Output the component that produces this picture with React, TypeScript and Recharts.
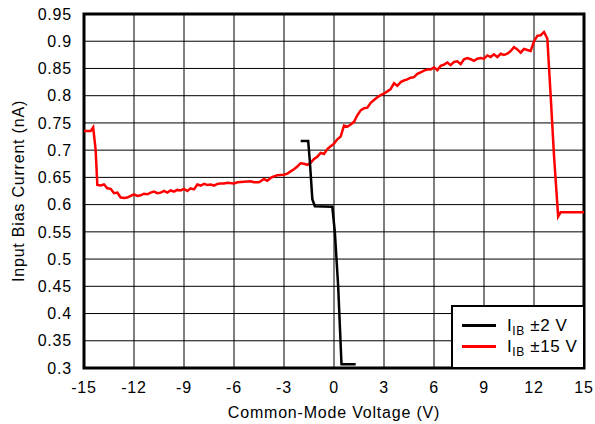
import { LineChart, Line, XAxis, YAxis, CartesianGrid, ReferenceArea } from "recharts";

const xTicks = [-15, -12, -9, -6, -3, 0, 3, 6, 9, 12, 15];
const yTicks = [0.3, 0.35, 0.4, 0.45, 0.5, 0.55, 0.6, 0.65, 0.7, 0.75, 0.8, 0.85, 0.9, 0.95];

// IIB at ±2 V supply
const vcm2 = [-2.0, -1.55, -1.45, -1.3, -1.15, -0.1, 0.05, 0.25, 0.45, 1.3];
const ib2 = [0.717, 0.717, 0.68, 0.61, 0.597, 0.596, 0.55, 0.45, 0.307, 0.307];

// IIB at ±15 V supply
const vcm15 = [
  -15, -14.6, -14.45, -14.3, -14.2, -14.0, -13.8, -13.6, -13.4, -13.2, -13.0, -12.8, -12.6, -12.4,
  -12.2, -12.0, -11.8, -11.6, -11.4, -11.2, -11.0, -10.8, -10.6, -10.4, -10.2, -10.0, -9.8, -9.6,
  -9.4, -9.2, -9.0, -8.8, -8.6, -8.4, -8.2, -8.0, -7.8, -7.6, -7.4, -7.2, -7.0, -6.8, -6.6, -6.4,
  -6.0, -5.8, -5.4, -5.0, -4.8, -4.5, -4.2, -4.0, -3.8, -3.6, -3.4, -3.0, -2.8, -2.6, -2.4, -2.2,
  -2.0, -1.8, -1.6, -1.4, -1.2, -1.0, -0.8, -0.6, -0.4, -0.2, 0.0, 0.2, 0.4, 0.6, 0.8, 1.0, 1.2,
  1.4, 1.6, 1.8, 2.0, 2.2, 2.4, 2.6, 2.8, 3.0, 3.2, 3.4, 3.6, 3.8, 4.0, 4.2, 4.4, 4.6, 4.8, 5.0,
  5.2, 5.4, 5.6, 5.8, 6.0, 6.2, 6.4, 6.6, 6.8, 7.0, 7.2, 7.4, 7.6, 7.8, 8.0, 8.2, 8.4, 8.6, 8.8,
  9.0, 9.2, 9.4, 9.6, 9.8, 10.0, 10.2, 10.4, 10.6, 10.8, 11.0, 11.2, 11.4, 11.6, 11.8, 12.0, 12.2,
  12.4, 12.6, 12.8, 13.0, 13.2, 13.45, 13.6, 14.0, 15.0,
];
const ib15 = [
  0.735, 0.735, 0.742, 0.7, 0.636, 0.635, 0.637, 0.63, 0.629, 0.621, 0.622, 0.613, 0.612, 0.613,
  0.616, 0.619, 0.616, 0.617, 0.62, 0.619, 0.622, 0.624, 0.621, 0.622, 0.625, 0.622, 0.626, 0.624,
  0.627, 0.626, 0.629, 0.625, 0.63, 0.628, 0.637, 0.635, 0.638, 0.636, 0.637, 0.635, 0.638, 0.639,
  0.639, 0.64, 0.639, 0.641, 0.642, 0.643, 0.641, 0.641, 0.647, 0.644, 0.649, 0.652, 0.654, 0.655,
  0.657, 0.661, 0.665, 0.67, 0.676, 0.675, 0.673, 0.677, 0.684, 0.688, 0.695, 0.693, 0.702, 0.707,
  0.712, 0.72, 0.725, 0.745, 0.743, 0.747, 0.752, 0.764, 0.773, 0.777, 0.778, 0.787, 0.792, 0.797,
  0.801, 0.804, 0.808, 0.812, 0.823, 0.818, 0.825, 0.828, 0.83, 0.833, 0.834, 0.84, 0.843, 0.846,
  0.848, 0.848, 0.852, 0.847, 0.855, 0.857, 0.861, 0.856, 0.862, 0.863, 0.858, 0.867, 0.869, 0.867,
  0.864, 0.868, 0.869, 0.868, 0.874, 0.871, 0.876, 0.871, 0.877, 0.875, 0.877, 0.882, 0.889, 0.885,
  0.879, 0.886, 0.884, 0.882, 0.9, 0.91, 0.911, 0.917, 0.905, 0.8, 0.69, 0.578, 0.586, 0.586, 0.586,
];

const data2 = vcm2.map((v, i) => ({ v, ib: ib2[i] }));
const data15 = vcm15.map((v, i) => ({ v, ib: ib15[i] }));

const font = "'Liberation Sans', Arial, sans-serif";
const textStyle = { fill: "#000", fontSize: 16, fontFamily: font, letterSpacing: 0.8 };

const legendRows = [
  { color: "#000", label: "±2 V" },
  { color: "#ff0000", label: "±15 V" },
];

const LegendBox = () => (
  <div
    style={{
      position: "absolute",
      left: 451,
      top: 305,
      width: 134,
      height: 64,
      border: "2.5px solid #000",
      background: "#fff",
      boxSizing: "border-box",
      fontFamily: font,
      fontSize: 17,
      letterSpacing: 0.6,
      color: "#000",
      paddingTop: 8,
    }}
  >
    {legendRows.map((row) => (
      <div key={row.label} style={{ display: "flex", alignItems: "center", height: 21 }}>
        <span style={{ display: "inline-block", width: 34, height: 3, background: row.color, marginLeft: 9, marginRight: 11 }} />
        <span style={{ lineHeight: "21px" }}>
          I<sub style={{ fontSize: 12, lineHeight: 0 }}>IB</sub> {row.label}
        </span>
      </div>
    ))}
  </div>
);

export default function App() {
  return (
    <div style={{ position: "absolute", left: 0, top: 0, width: 595, height: 424, background: "#fff" }}>
      <LineChart width={595} height={424} margin={{ top: 14, right: 11, bottom: 0, left: 0 }}>
        <CartesianGrid stroke="#000" strokeWidth={1} horizontalValues={yTicks} verticalValues={xTicks} />
        <XAxis
          type="number"
          dataKey="v"
          domain={[-15, 15]}
          ticks={xTicks}
          axisLine={false}
          tickLine={false}
          height={56}
          tick={textStyle}
          tickMargin={8}
          label={{ value: "Common-Mode Voltage (V)", position: "insideBottom", offset: 6, ...textStyle }}
        />
        <YAxis
          type="number"
          domain={[0.3, 0.95]}
          ticks={yTicks}
          interval={0}
          axisLine={false}
          tickLine={false}
          width={84}
          tickFormatter={(t: number) => String(Number(t.toFixed(2)))}
          tick={textStyle}
          tickMargin={6}
          label={{ value: "Input Bias Current (nA)", angle: -90, position: "insideLeft", offset: 18, style: { textAnchor: "middle" }, ...textStyle }}
        />
        <Line data={data15} dataKey="ib" stroke="#ff0000" strokeWidth={2.5} dot={false} isAnimationActive={false} />
        <Line data={data2} dataKey="ib" stroke="#000" strokeWidth={2.5} dot={false} isAnimationActive={false} />
        <ReferenceArea x1={-15} x2={15} y1={0.3} y2={0.95} fill="none" stroke="#000" strokeWidth={3} ifOverflow="visible" />
      </LineChart>
      <LegendBox />
    </div>
  );
}
